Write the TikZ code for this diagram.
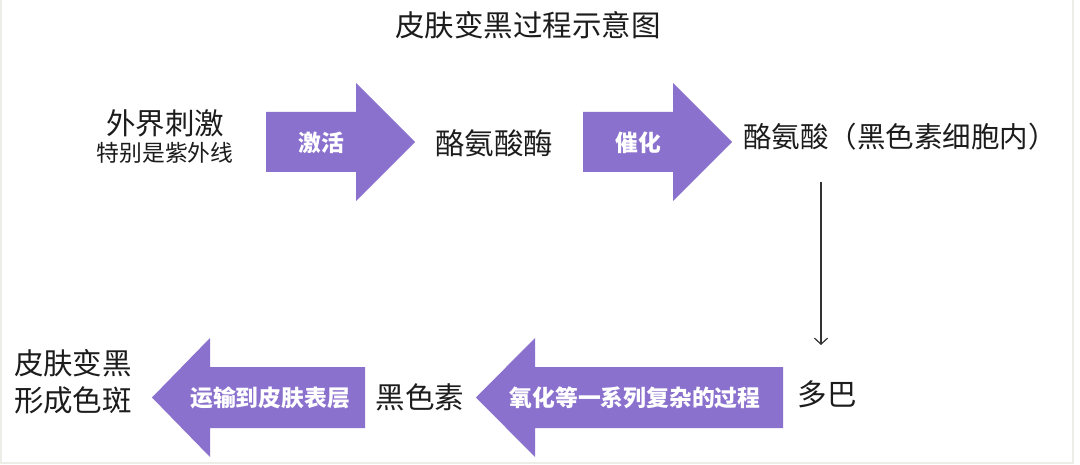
\documentclass[tikz,border=0pt]{standalone}
\usepackage{fontspec}
\newfontfamily\cjk{Noto Sans CJK SC}
\usetikzlibrary{arrows.meta}
\definecolor{arrowpurple}{HTML}{8B71CE}
\definecolor{framegray}{HTML}{EDEDE8}
\definecolor{txt}{HTML}{1C1C1C}
\tikzset{
  fatarrow/.style={fill=arrowpurple},
  maintext/.style={inner sep=0pt, text=txt, font=\cjk\fontsize{29.5}{35}\selectfont, align=center},
  subtext/.style={inner sep=0pt, text=txt, font=\cjk\fontsize{22.8}{27}\selectfont},
  arrowlabel/.style={inner sep=0pt, text=white, font=\cjk\bfseries\fontsize{22.8}{27}\selectfont},
  thinarrow/.style={draw=black!80, line width=1.2pt, -{Straight Barb[length=6pt,width=13pt,line width=1.2pt]}}
}
\begin{document}
\begin{tikzpicture}[x=1pt,y=-1pt]
\useasboundingbox (0,0) rectangle (1080,465);
\fill[white] (0,0) rectangle (1080,465);
% frame
\draw[framegray, line width=2pt] (1,0) -- (1,463) -- (1073,463) -- (1073,0);

% title
\node[maintext] (title) at (528,25) {皮肤变黑过程示意图};

% top row fat arrows
\fill[fatarrow] (266,112) -- (356,112) -- (356,83) -- (415,142) -- (356,201) -- (356,172) -- (266,172) -- cycle;
\fill[fatarrow] (583,112) -- (673,112) -- (673,83) -- (732,142) -- (673,201) -- (673,172) -- (583,172) -- cycle;
% bottom row fat arrows
\fill[fatarrow] (783,367) -- (535,367) -- (535,338) -- (476,397.5) -- (535,457) -- (535,428) -- (783,428) -- cycle;
\fill[fatarrow] (365,367) -- (210,367) -- (210,338) -- (152,397.5) -- (210,457) -- (210,428) -- (365,428) -- cycle;

% arrow labels
\node[arrowlabel] (l1) at (321,143) {激活};
\node[arrowlabel] (l2) at (638,143) {催化};
\node[arrowlabel] (l3) at (635,398) {氧化等一系列复杂的过程};
\node[arrowlabel] (l4) at (270,398) {运输到皮肤表层};

% texts
\node[maintext] (stim) at (165,123) {外界刺激};
\node[subtext] (uv) at (165,153) {特别是紫外线};
\node[maintext] (enzyme) at (494,143) {酪氨酸酶};
\node[maintext, font=\cjk\fontsize{28.5}{34}\selectfont] (tyr) at (900,137) {酪氨酸（黑色素细胞内）};
\node[maintext] (dopa) at (827,394) {多巴};
\node[maintext] (mel) at (420,397) {黑色素};
\node[maintext, align=left] (dark) at (73,381.5) {皮肤变黑\\[2pt]形成色斑};

% thin vertical arrow
\coordinate (vtop) at (821,182);
\coordinate (vbot) at (821,345);
\draw[thinarrow] (vtop) -- (vbot);
\end{tikzpicture}
\end{document}
